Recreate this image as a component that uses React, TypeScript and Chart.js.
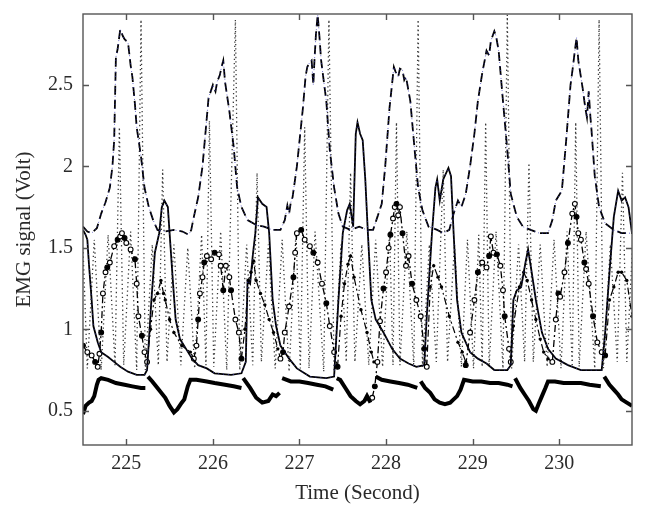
import React, { useEffect, useRef } from "react";
import { Chart, registerables } from "chart.js";
Chart.register(...registerables);

const xTicks = [225, 226, 227, 228, 229, 230];
const yTicks = [0.5, 1, 1.5, 2, 2.5];
const xLabel = "Time (Second)";
const yLabel = "EMG signal (Volt)";

// [time (s), volt]
const dashedSeries: [number, number][] = [
  [224.5, 1.63], [224.55, 1.6], [224.6, 1.59], [224.66, 1.62], [224.71, 1.71], [224.76, 1.78], [224.81, 1.87],
  [224.84, 2.0], [224.86, 2.16], [224.88, 2.67], [224.9, 2.72], [224.93, 2.84], [224.96, 2.8], [224.98, 2.78],
  [225.02, 2.76], [225.05, 2.62], [225.07, 2.55], [225.1, 2.38], [225.12, 2.24], [225.17, 2.06], [225.21, 1.87],
  [225.26, 1.75], [225.31, 1.67], [225.36, 1.61], [225.45, 1.6], [225.55, 1.61], [225.65, 1.6], [225.72, 1.58],
  [225.75, 1.61], [225.78, 1.69], [225.83, 1.81], [225.88, 2.0], [225.93, 2.3], [225.95, 2.42], [226.0, 2.5],
  [226.03, 2.46], [226.05, 2.52], [226.08, 2.56], [226.1, 2.61], [226.12, 2.65], [226.14, 2.52], [226.19, 2.34],
  [226.24, 2.12], [226.28, 1.87], [226.33, 1.75], [226.4, 1.67], [226.5, 1.64], [226.59, 1.63], [226.69, 1.61],
  [226.78, 1.61], [226.83, 1.67], [226.86, 1.76], [226.88, 1.71], [226.9, 1.78], [226.92, 1.81], [226.97, 2.0],
  [227.04, 2.36], [227.07, 2.55], [227.09, 2.61], [227.12, 2.64], [227.14, 2.65], [227.16, 2.5], [227.17, 2.62],
  [227.19, 2.81], [227.21, 2.93], [227.23, 2.8], [227.25, 2.65], [227.31, 2.4], [227.35, 2.1], [227.4, 1.87],
  [227.45, 1.71], [227.5, 1.63], [227.59, 1.61], [227.69, 1.63], [227.78, 1.61], [227.85, 1.61], [227.9, 1.69],
  [227.95, 1.77], [227.99, 2.0], [228.04, 2.36], [228.09, 2.61], [228.11, 2.58], [228.14, 2.55], [228.16, 2.6],
  [228.19, 2.59], [228.21, 2.53], [228.23, 2.55], [228.28, 2.4], [228.33, 2.1], [228.37, 1.87], [228.42, 1.73],
  [228.49, 1.63], [228.59, 1.61], [228.66, 1.59], [228.73, 1.61], [228.78, 1.71], [228.83, 1.79], [228.87, 1.75],
  [228.92, 1.83], [228.97, 2.0], [229.02, 2.2], [229.06, 2.4], [229.11, 2.57], [229.16, 2.71], [229.19, 2.68],
  [229.21, 2.77], [229.25, 2.83], [229.27, 2.8], [229.3, 2.71], [229.35, 2.4], [229.4, 2.1], [229.44, 1.83],
  [229.51, 1.69], [229.58, 1.63], [229.67, 1.61], [229.77, 1.59], [229.87, 1.59], [229.92, 1.67], [229.96, 1.79],
  [230.03, 1.85], [230.08, 2.16], [230.13, 2.5], [230.16, 2.62], [230.18, 2.71], [230.2, 2.79], [230.22, 2.65],
  [230.27, 2.48], [230.3, 2.36], [230.32, 2.3], [230.34, 2.46], [230.36, 2.3], [230.37, 2.24], [230.41, 1.94],
  [230.46, 1.75], [230.53, 1.65], [230.63, 1.61], [230.72, 1.59], [230.84, 1.59],
];

const solidSeries: [number, number][] = [
  [224.5, 1.61], [224.53, 1.58], [224.55, 1.55], [224.57, 1.39], [224.6, 1.18], [224.62, 1.02], [224.67, 0.92],
  [224.71, 0.86], [224.79, 0.83], [224.86, 0.8], [224.93, 0.77], [225.02, 0.74], [225.12, 0.72], [225.21, 0.72],
  [225.24, 0.75], [225.29, 1.18], [225.33, 1.47], [225.38, 1.59], [225.41, 1.75], [225.44, 1.79], [225.48, 1.75],
  [225.5, 1.59], [225.54, 1.28], [225.57, 1.06], [225.62, 0.94], [225.69, 0.88], [225.76, 0.82], [225.83, 0.78],
  [225.93, 0.76], [226.02, 0.73], [226.21, 0.72], [226.33, 0.73], [226.38, 0.8], [226.4, 1.3], [226.43, 1.28],
  [226.46, 1.45], [226.49, 1.59], [226.52, 1.81], [226.57, 1.77], [226.62, 1.75], [226.65, 1.59], [226.69, 1.18],
  [226.73, 1.02], [226.78, 0.9], [226.88, 0.82], [226.97, 0.76], [227.12, 0.71], [227.31, 0.7], [227.4, 0.71],
  [227.45, 1.18], [227.5, 1.59], [227.55, 1.73], [227.58, 1.77], [227.62, 1.63], [227.65, 2.2], [227.67, 2.27],
  [227.7, 2.2], [227.73, 2.16], [227.76, 1.92], [227.79, 1.59], [227.83, 1.18], [227.88, 1.06], [227.97, 0.98],
  [228.07, 0.88], [228.16, 0.82], [228.26, 0.79], [228.35, 0.77], [228.44, 0.78], [228.47, 1.08], [228.53, 1.59],
  [228.57, 1.87], [228.59, 1.92], [228.62, 1.79], [228.66, 1.92], [228.72, 1.99], [228.75, 1.94], [228.78, 1.59],
  [228.82, 1.18], [228.87, 0.98], [228.97, 0.86], [229.06, 0.82], [229.16, 0.79], [229.25, 0.75], [229.4, 0.75],
  [229.44, 0.78], [229.47, 1.18], [229.51, 1.24], [229.56, 1.26], [229.61, 1.41], [229.64, 1.49], [229.67, 1.39],
  [229.73, 1.18], [229.8, 0.98], [229.87, 0.88], [229.96, 0.82], [230.1, 0.78], [230.25, 0.75], [230.39, 0.75],
  [230.49, 0.75], [230.53, 0.98], [230.58, 1.35], [230.63, 1.69], [230.68, 1.85], [230.72, 1.79], [230.76, 1.81],
  [230.8, 1.75], [230.84, 1.59],
];

const boldSeries: [number, number | null][] = [
  [224.5, 0.48], [224.53, 0.53], [224.57, 0.55], [224.6, 0.56], [224.63, 0.59], [224.66, 0.66], [224.68, 0.69],
  [224.71, 0.7], [224.79, 0.69], [224.88, 0.67], [224.98, 0.66], [225.07, 0.65], [225.17, 0.64], [225.22, 0.64],
  [225.23, null], [225.25, 0.71], [225.3, 0.68], [225.36, 0.64], [225.45, 0.58], [225.5, 0.53], [225.55, 0.49],
  [225.59, 0.51], [225.64, 0.55], [225.67, 0.57], [225.71, 0.65], [225.74, 0.69], [225.81, 0.69], [225.93, 0.68],
  [226.02, 0.67], [226.14, 0.66], [226.24, 0.65], [226.33, 0.64], [226.34, null], [226.35, 0.7], [226.43, 0.64],
  [226.5, 0.58], [226.57, 0.55], [226.64, 0.56], [226.69, 0.6], [226.73, 0.59], [226.77, 0.61], [226.79, null],
  [226.8, 0.7], [226.9, 0.68], [227.0, 0.68], [227.1, 0.67], [227.2, 0.66], [227.3, 0.65], [227.39, 0.63],
  [227.41, null], [227.43, 0.7], [227.47, 0.69], [227.53, 0.64], [227.59, 0.59], [227.65, 0.56], [227.7, 0.54],
  [227.75, 0.56], [227.78, 0.59], [227.82, 0.55], [227.85, null], [227.88, 0.71], [227.95, 0.69], [228.05, 0.68],
  [228.15, 0.67], [228.25, 0.66], [228.36, 0.64], [228.38, null], [228.4, 0.68], [228.45, 0.64], [228.51, 0.61],
  [228.56, 0.57], [228.62, 0.55], [228.68, 0.54], [228.74, 0.55], [228.78, 0.57], [228.82, 0.59], [228.86, 0.63],
  [228.9, 0.69], [229.0, 0.68], [229.1, 0.68], [229.2, 0.67], [229.3, 0.67], [229.4, 0.66], [229.46, 0.65],
  [229.47, null], [229.49, 0.7], [229.55, 0.64], [229.6, 0.6], [229.65, 0.56], [229.7, 0.51], [229.73, 0.5],
  [229.76, 0.54], [229.8, 0.59], [229.84, 0.64], [229.87, 0.68], [229.95, 0.68], [230.05, 0.67], [230.15, 0.67],
  [230.25, 0.67], [230.35, 0.66], [230.48, 0.65], [230.5, null], [230.52, 0.71], [230.58, 0.66], [230.63, 0.63],
  [230.68, 0.6], [230.72, 0.57], [230.78, 0.55], [230.84, 0.53],
];

const circleSeries: [number, number | null][] = [
  [224.5, 0.9], [224.55, 0.86], [224.6, 0.84], [224.64, 0.8], [224.67, 0.77], [224.69, 0.85], [224.71, 0.98],
  [224.73, 1.22], [224.76, 1.35], [224.78, 1.38], [224.81, 1.41], [224.86, 1.51], [224.9, 1.55], [224.93, 1.57],
  [224.95, 1.59], [224.98, 1.56], [225.0, 1.53], [225.05, 1.49], [225.1, 1.43], [225.12, 1.28], [225.14, 1.08],
  [225.18, 0.96], [225.21, 0.86], [225.24, 0.8], [225.5, null],
  [225.78, 0.82], [225.81, 0.9], [225.83, 1.06], [225.85, 1.22], [225.88, 1.32], [225.9, 1.41], [225.93, 1.45],
  [225.98, 1.43], [226.02, 1.47], [226.07, 1.46], [226.09, 1.39], [226.12, 1.24], [226.15, 1.39], [226.19, 1.32],
  [226.21, 1.24], [226.26, 1.06], [226.3, 0.98], [226.33, 0.82], [226.5, null],
  [226.78, 0.82], [226.81, 0.86], [226.83, 0.98], [226.88, 1.14], [226.93, 1.32], [226.95, 1.47], [226.97, 1.59],
  [227.02, 1.61], [227.06, 1.55], [227.12, 1.51], [227.16, 1.47], [227.21, 1.41], [227.26, 1.28], [227.31, 1.16],
  [227.35, 1.02], [227.4, 0.86], [227.44, 0.77], [227.6, null],
  [227.84, 0.58], [227.87, 0.65], [227.9, 0.8], [227.93, 1.05], [227.97, 1.25], [228.0, 1.35], [228.03, 1.5],
  [228.05, 1.58], [228.08, 1.68], [228.1, 1.75], [228.12, 1.77], [228.14, 1.7], [228.16, 1.75], [228.19, 1.59],
  [228.23, 1.39], [228.26, 1.45], [228.3, 1.28], [228.35, 1.18], [228.4, 1.08], [228.44, 0.88], [228.47, 0.77],
  [228.6, null],
  [228.92, 0.78], [228.97, 0.98], [229.02, 1.18], [229.06, 1.35], [229.11, 1.41], [229.16, 1.38], [229.19, 1.45],
  [229.21, 1.57], [229.24, 1.47], [229.28, 1.46], [229.32, 1.39], [229.35, 1.24], [229.37, 1.08], [229.42, 0.88],
  [229.44, 0.8], [229.6, null],
  [229.92, 0.8], [229.96, 1.06], [229.99, 1.22], [230.01, 1.2], [230.06, 1.35], [230.1, 1.53], [230.15, 1.71],
  [230.18, 1.77], [230.2, 1.69], [230.22, 1.59], [230.25, 1.55], [230.29, 1.41], [230.31, 1.37], [230.34, 1.28],
  [230.39, 1.08], [230.44, 0.92], [230.49, 0.86], [230.53, 0.84],
];

const dotMarkSeries: [number, number | null][] = [
  [225.24, 0.8], [225.28, 1.0], [225.32, 1.18], [225.36, 1.22], [225.4, 1.3], [225.43, 1.22], [225.45, 1.18],
  [225.5, 1.06], [225.55, 0.98], [225.64, 0.9], [225.74, 0.86], [225.78, 0.82], [226.0, null],
  [226.33, 0.82], [226.37, 1.0], [226.41, 1.3], [226.44, 1.35], [226.47, 1.42], [226.5, 1.3], [226.55, 1.22],
  [226.6, 1.15], [226.65, 1.06], [226.7, 0.98], [226.75, 0.88], [226.78, 0.82], [227.0, null],
  [227.44, 0.77], [227.48, 1.08], [227.52, 1.28], [227.56, 1.4], [227.59, 1.45], [227.63, 1.32], [227.71, 1.12],
  [227.78, 0.98], [227.83, 0.86], [227.86, 0.8], [228.0, null],
  [228.47, 0.77], [228.51, 1.26], [228.55, 1.39], [228.6, 1.32], [228.64, 1.26], [228.73, 1.08], [228.83, 0.92],
  [228.88, 0.86], [228.92, 0.8], [229.1, null],
  [229.44, 0.8], [229.47, 1.02], [229.54, 1.26], [229.59, 1.35], [229.63, 1.3], [229.68, 1.18], [229.73, 1.06],
  [229.78, 0.94], [229.82, 0.86], [229.87, 0.82], [229.92, 0.8], [230.1, null],
  [230.53, 0.84], [230.58, 1.18], [230.63, 1.26], [230.68, 1.35], [230.72, 1.35], [230.78, 1.3], [230.84, 1.08],
];

const dottedSeries: [number, number][] = [
  [224.5, 1.5], [224.55, 0.76], [224.63, 1.55], [224.71, 0.75], [224.79, 1.58], [224.87, 0.78], [224.92, 2.24],
  [224.97, 0.78], [225.05, 1.6], [225.12, 0.75], [225.17, 2.9], [225.22, 0.75], [225.3, 1.52], [225.37, 0.78],
  [225.42, 1.98], [225.47, 0.8], [225.55, 1.52], [225.63, 0.78], [225.71, 1.5], [225.79, 0.76], [225.87, 1.58],
  [225.92, 0.78], [225.96, 2.28], [226.01, 0.77], [226.09, 1.6], [226.16, 0.75], [226.26, 2.9], [226.31, 0.75],
  [226.39, 1.52], [226.46, 0.78], [226.51, 1.96], [226.56, 0.8], [226.64, 1.52], [226.72, 0.76], [226.8, 1.55],
  [226.88, 0.74], [226.96, 1.6], [227.01, 0.76], [227.06, 2.24], [227.11, 0.76], [227.18, 1.6], [227.28, 0.74],
  [227.34, 2.9], [227.4, 0.74], [227.48, 1.52], [227.54, 0.8], [227.59, 1.96], [227.64, 0.8], [227.72, 1.52],
  [227.8, 0.78], [227.88, 1.55], [227.96, 0.77], [228.04, 1.6], [228.08, 0.78], [228.12, 2.27], [228.16, 0.78],
  [228.24, 1.6], [228.32, 0.77], [228.37, 2.9], [228.42, 0.77], [228.5, 1.52], [228.58, 0.8], [228.66, 1.98],
  [228.71, 0.8], [228.79, 1.52], [228.87, 0.77], [228.94, 1.55], [229.01, 0.76], [229.07, 1.58], [229.11, 0.77],
  [229.15, 2.27], [229.19, 0.77], [229.27, 1.6], [229.35, 0.76], [229.4, 2.93], [229.45, 0.76], [229.53, 1.52],
  [229.6, 0.8], [229.65, 2.02], [229.7, 0.8], [229.78, 1.52], [229.86, 0.77], [229.94, 1.55], [230.02, 0.76],
  [230.09, 1.6], [230.15, 0.77], [230.19, 2.27], [230.23, 0.77], [230.31, 1.6], [230.41, 0.76], [230.46, 2.9],
  [230.51, 0.76], [230.59, 1.52], [230.67, 0.8], [230.73, 1.96], [230.78, 0.8], [230.85, 1.55],
];

const toPts = (s: [number, number | null][]) => s.map(([x, y]) => ({ x, y }));

const FONT = "'Liberation Serif', 'Times New Roman', serif";
const TEXT = "#2a2a2a";

const framePlugin = {
  id: "frame",
  afterDatasetsDraw(chart: any) {
    const { ctx, chartArea: a, scales } = chart;
    ctx.save();
    ctx.strokeStyle = "#555";
    ctx.lineWidth = 1.4;
    ctx.strokeRect(a.left, a.top, a.right - a.left, a.bottom - a.top);
    ctx.beginPath();
    for (const t of xTicks) {
      const px = Math.round(scales.x.getPixelForValue(t)) + 0.5;
      ctx.moveTo(px, a.bottom);
      ctx.lineTo(px, a.bottom - 6);
      ctx.moveTo(px, a.top);
      ctx.lineTo(px, a.top + 6);
    }
    for (const t of yTicks) {
      const py = Math.round(scales.y.getPixelForValue(t)) + 0.5;
      ctx.moveTo(a.left, py);
      ctx.lineTo(a.left + 6, py);
      ctx.moveTo(a.right, py);
      ctx.lineTo(a.right - 6, py);
    }
    ctx.stroke();
    ctx.restore();
  },
};

export default function App() {
  const ref = useRef<HTMLCanvasElement | null>(null);
  useEffect(() => {
    document.body.style.margin = "0";
    const canvas = ref.current;
    if (!canvas) return;
    const navy = "rgba(60,60,190,0.75)";
    const chart = new Chart(canvas, {
      type: "line",
      data: {
        datasets: [
          { data: toPts(dashedSeries), borderColor: navy, borderWidth: 1, borderDash: [1, 3], pointRadius: 0 },
          { data: toPts(solidSeries), borderColor: navy, borderWidth: 1, borderDash: [1, 4], pointRadius: 0 },
          { data: toPts(boldSeries), borderColor: "#000", borderWidth: 4, pointRadius: 0, spanGaps: false },
          { data: toPts(solidSeries), borderColor: "#000", borderWidth: 1.8, pointRadius: 0 },
          { data: toPts(dashedSeries), borderColor: "#000", borderWidth: 1.8, borderDash: [9, 5], pointRadius: 0 },
          {
            data: toPts(circleSeries), borderColor: "#000", borderWidth: 1.3, borderDash: [7, 3, 2, 3],
            pointRadius: 2.4, pointBorderWidth: 1.1, pointBorderColor: "#000",
            pointBackgroundColor: (c: any) => (c.dataIndex % 3 === 0 ? "#000" : "#fff"), spanGaps: false,
          },
          {
            data: toPts(dotMarkSeries), borderColor: "#000", borderWidth: 1.2, borderDash: [7, 3, 2, 3],
            pointRadius: 1.7, pointBorderWidth: 0, pointBackgroundColor: "#000", spanGaps: false,
          },
          { data: toPts(dottedSeries), borderColor: "#3a3a3a", borderWidth: 1.3, borderDash: [1.3, 3], pointRadius: 0 },
        ],
      },
      options: {
        animation: false,
        responsive: false,
        parsing: false as any,
        normalized: true,
        layout: { padding: { left: 0, right: 14, top: 14, bottom: 0 } },
        plugins: { legend: { display: false }, tooltip: { enabled: false } },
        elements: { line: { tension: 0, fill: false } },
        scales: {
          x: {
            type: "linear",
            min: 224.5,
            max: 230.84,
            grid: { display: false, drawTicks: false },
            border: { display: false },
            afterBuildTicks: (s: any) => { s.ticks = xTicks.map((v) => ({ value: v })); },
            afterFit: (s: any) => { s.height = 75; s.paddingLeft = 0; s.paddingRight = 0; },
            ticks: { color: TEXT, padding: 7, maxRotation: 0, font: { family: FONT, size: 20 }, callback: (v: any) => String(v) },
            title: { display: true, text: xLabel, color: TEXT, font: { family: FONT, size: 21 }, padding: { top: 0, bottom: 14 } },
          },
          y: {
            type: "linear",
            min: 0.29,
            max: 2.935,
            grid: { display: false, drawTicks: false },
            border: { display: false },
            afterBuildTicks: (s: any) => { s.ticks = yTicks.map((v) => ({ value: v })); },
            afterFit: (s: any) => { s.width = 83; s.paddingTop = 0; s.paddingBottom = 0; },
            ticks: { color: TEXT, padding: 10, font: { family: FONT, size: 20 }, callback: (v: any) => String(v) },
            title: { display: true, text: yLabel, color: TEXT, font: { family: FONT, size: 21 }, padding: { top: 12, bottom: 0 } },
          },
        },
      },
      plugins: [framePlugin],
    });
    return () => chart.destroy();
  }, []);
  return (
    <div style={{ width: 646, height: 520, background: "#fff" }}>
      <canvas ref={ref} width={646} height={520} style={{ display: "block" }} />
    </div>
  );
}
